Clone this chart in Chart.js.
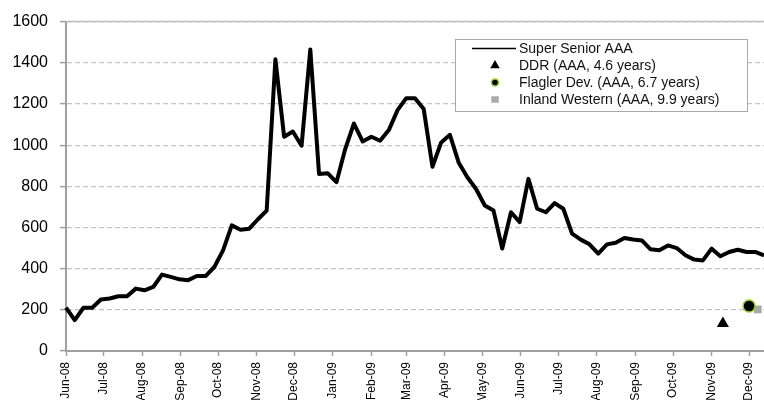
<!DOCTYPE html>
<html>
<head>
<meta charset="utf-8">
<script src="https://cdn.jsdelivr.net/npm/chart.js@4.4.0/dist/chart.umd.min.js"></script>
<style>
  html, body { margin: 0; padding: 0; background: #fff; }
  #wrap { width: 764px; height: 400px; }
</style>
</head>
<body>
<div id="wrap"><canvas id="spreadChart"></canvas></div>
<script>
// month tick labels on the date axis (first day of each month)
const monthLabels = ['Jun-08', 'Jul-08', 'Aug-08', 'Sep-08', 'Oct-08', 'Nov-08', 'Dec-08',
  'Jan-09', 'Feb-09', 'Mar-09', 'Apr-09', 'May-09', 'Jun-09', 'Jul-09', 'Aug-09',
  'Sep-09', 'Oct-09', 'Nov-09', 'Dec-09'];

// weekly Super Senior AAA spread, starting first week of Jun-08
const superSeniorAAA = [211, 150, 210, 210, 250, 255, 266, 266, 303, 295, 311, 371, 360, 348,
  344, 364, 364, 408, 489, 610, 589, 594, 640, 682, 1417, 1041, 1066, 997, 1465, 860, 863,
  820, 981, 1105, 1018, 1041, 1021, 1073, 1170, 1228, 1228, 1175, 895, 1013, 1050, 916, 844,
  787, 707, 682, 498, 674, 626, 836, 691, 674, 718, 691, 570, 541, 518, 473, 518, 526, 549,
  542, 537, 494, 489, 513, 500, 465, 444, 440, 497, 460, 481, 492, 481, 481, 465];

// single new-issue points (days after 1 Jun 2008)
const issueLabels = ['DDR (AAA, 4.6 years)', 'Flagler Dev. (AAA, 6.7 years)', 'Inland Western (AAA, 9.9 years)'];
const issueDays = [527, 548, 555];
const issueValues = [134, 219, 202];

const DAY = 86400000;
const start = Date.UTC(2008, 5, 1);
const monthDays = monthLabels.map((m, i) => (Date.UTC(2008, 5 + i, 1) - start) / DAY);

const font = '"Liberation Sans", Arial, sans-serif';

const issueStyles = [
  { pointStyle: 'triangle', radius: 7, legendRadius: 5.5, fill: '#000', stroke: '#000', bw: 0 },
  { pointStyle: 'circle', radius: 6, legendRadius: 3.5, fill: '#000', stroke: '#9acd32', bw: 1.5 },
  { pointStyle: 'rect', radius: 5.5, legendRadius: 5, fill: '#aaaaaa', stroke: '#aaaaaa', bw: 0 }
];

const datasets = [{
  label: 'Super Senior AAA',
  data: superSeniorAAA.map((v, i) => ({ x: i * 7, y: v })),
  borderColor: '#000',
  borderWidth: 4,
  borderJoinStyle: 'round',
  pointRadius: 0,
  tension: 0,
  clip: false
}];
issueLabels.forEach((lab, i) => {
  const s = issueStyles[i];
  datasets.push({
    label: lab,
    data: [{ x: issueDays[i], y: issueValues[i] }],
    showLine: false,
    pointStyle: s.pointStyle,
    pointRadius: s.radius,
    pointBackgroundColor: s.fill,
    pointBorderColor: s.stroke,
    pointBorderWidth: s.bw,
    clip: false
  });
});

// solid line along the top of the plot
const topLine = {
  id: 'topLine',
  beforeDatasetsDraw(chart) {
    const { ctx, chartArea } = chart;
    ctx.save();
    ctx.strokeStyle = '#bdbdbd';
    ctx.lineWidth = 1.5;
    ctx.beginPath();
    ctx.moveTo(chartArea.left, chartArea.top);
    ctx.lineTo(chartArea.right, chartArea.top);
    ctx.stroke();
    ctx.restore();
  }
};

function marker(ctx, style, r, x, y, fill, stroke, bw) {
  ctx.fillStyle = fill;
  ctx.strokeStyle = stroke;
  ctx.lineWidth = bw;
  ctx.beginPath();
  if (style === 'triangle') {
    ctx.moveTo(x, y - r);
    ctx.lineTo(x + r * 0.866, y + r * 0.5);
    ctx.lineTo(x - r * 0.866, y + r * 0.5);
    ctx.closePath();
  } else if (style === 'circle') {
    ctx.arc(x, y, r, 0, Math.PI * 2);
  } else {
    ctx.rect(x - r * 0.75, y - r * 0.65, r * 1.5, r * 1.3);
  }
  ctx.fill();
  if (bw > 0) ctx.stroke();
}

// boxed legend inside the plot, top right
const boxLegend = {
  id: 'boxLegend',
  afterDatasetsDraw(chart) {
    const ctx = chart.ctx;
    const x0 = 455, y0 = 39, w = 292, h = 72;
    ctx.save();
    ctx.fillStyle = '#fff';
    ctx.fillRect(x0, y0, w, h);
    ctx.strokeStyle = '#a8a8a8';
    ctx.lineWidth = 1;
    ctx.strokeRect(x0 + 0.5, y0 + 0.5, w, h);
    ctx.font = '14px ' + font;
    ctx.textBaseline = 'middle';
    chart.data.datasets.forEach((ds, i) => {
      const y = 48.5 + i * 17;
      if (i === 0) {
        ctx.strokeStyle = ds.borderColor;
        ctx.lineWidth = 1.5;
        ctx.beginPath();
        ctx.moveTo(472, y);
        ctx.lineTo(516, y);
        ctx.stroke();
      } else {
        const s = issueStyles[i - 1];
        marker(ctx, s.pointStyle, s.legendRadius, 495, y, s.fill, s.stroke, s.bw);
      }
      ctx.fillStyle = '#111';
      ctx.fillText(ds.label, 519, y + 0.5);
    });
    ctx.restore();
  }
};

new Chart(document.getElementById('spreadChart'), {
  type: 'line',
  data: { datasets: datasets },
  options: {
    responsive: true,
    maintainAspectRatio: false,
    animation: false,
    layout: { autoPadding: false, padding: { top: 20, right: 0, left: 0, bottom: 0 } },
    plugins: {
      legend: { display: false },
      tooltip: { enabled: false }
    },
    scales: {
      x: {
        type: 'linear',
        min: 0,
        max: 560,
        afterBuildTicks: (scale) => { scale.ticks = monthDays.map(d => ({ value: d })); },
        afterFit: (scale) => { scale.height = 49; scale.paddingRight = 0; scale.paddingLeft = 0; },
        grid: { drawOnChartArea: false, color: '#a0a0a0', tickLength: 5, tickWidth: 1.5 },
        border: { color: '#a0a0a0', width: 2 },
        ticks: {
          autoSkip: false,
          maxRotation: 90,
          minRotation: 90,
          padding: 6,
          color: '#000',
          font: { family: font, size: 12 },
          callback: (v, i) => monthLabels[i]
        }
      },
      y: {
        min: 0,
        max: 1600,
        afterFit: (scale) => { scale.width = 66; },
        grid: { color: '#c4c4c4', lineWidth: 1.2, tickLength: 6, tickColor: '#a0a0a0', tickWidth: 1.5 },
        border: { color: '#a0a0a0', width: 2, dash: [5, 3] },
        ticks: {
          stepSize: 200,
          padding: 12,
          color: '#000',
          font: { family: font, size: 16 },
          callback: (v) => String(v)
        }
      }
    }
  },
  plugins: [topLine, boxLegend]
});
</script>
</body>
</html>
